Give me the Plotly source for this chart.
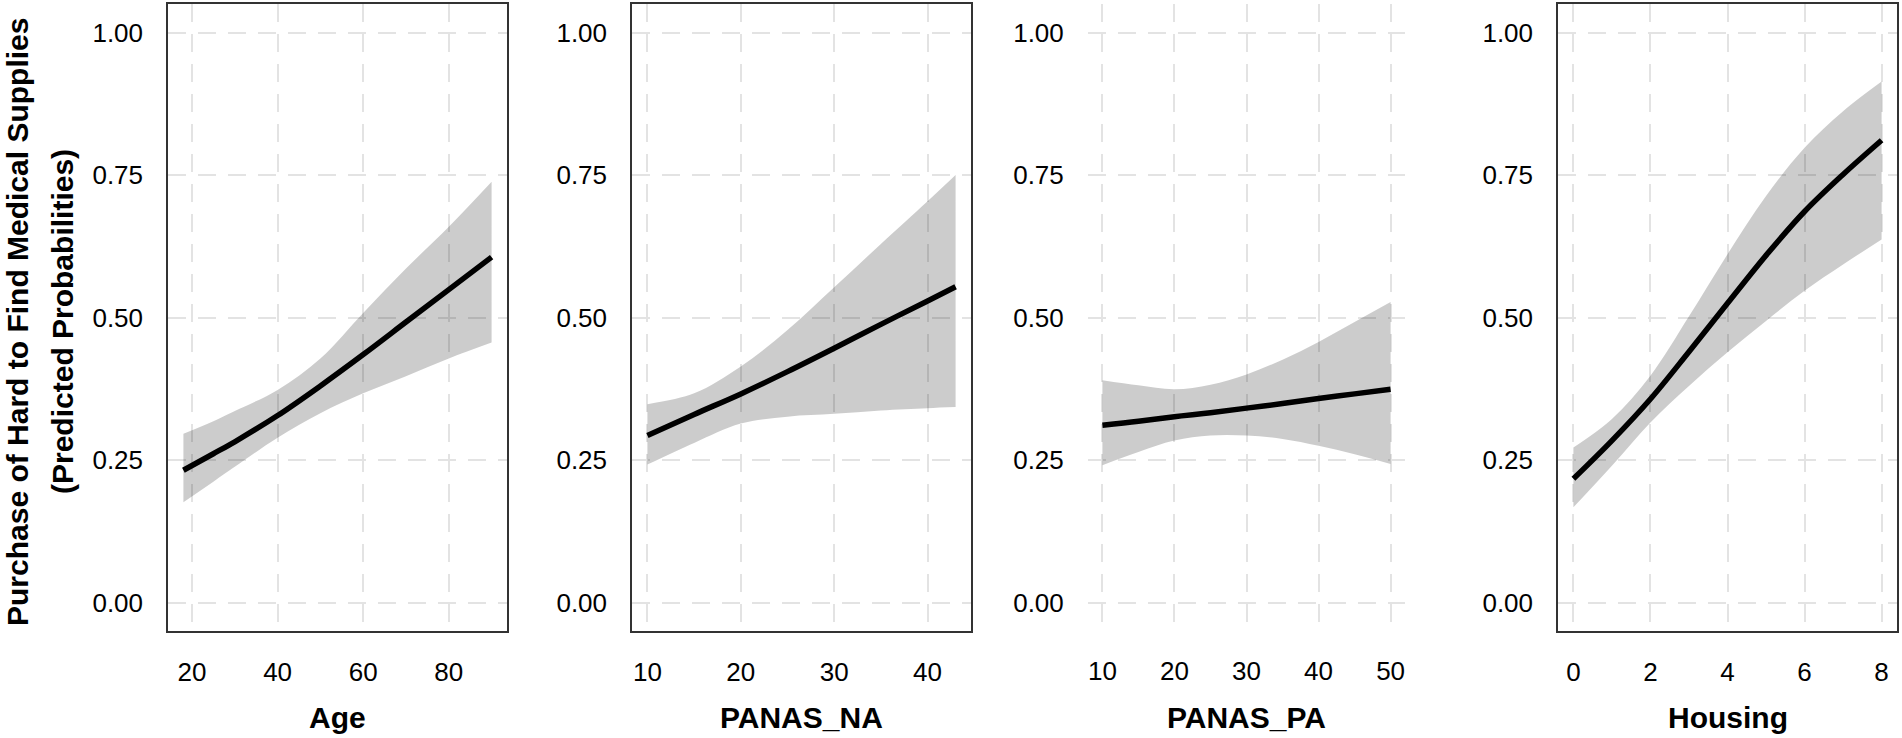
import plotly.graph_objects as go

# Predicted probabilities
age = [18, 25, 30, 40, 50, 60, 70, 80, 90]
age_fit = [0.232, 0.261, 0.282, 0.328, 0.380, 0.435, 0.492, 0.549, 0.606]
age_hi = [0.296, 0.318, 0.336, 0.373, 0.428, 0.508, 0.586, 0.659, 0.738]
age_lo = [0.176, 0.212, 0.238, 0.289, 0.332, 0.367, 0.397, 0.428, 0.456]

panas_na = [10, 15, 20, 25, 30, 35, 40, 43]
na_fit = [0.293, 0.330, 0.366, 0.405, 0.446, 0.488, 0.529, 0.554]
na_hi = [0.348, 0.367, 0.414, 0.478, 0.553, 0.629, 0.704, 0.750]
na_lo = [0.242, 0.280, 0.314, 0.326, 0.331, 0.337, 0.341, 0.343]

panas_pa = [10, 15, 20, 25, 30, 35, 40, 45, 50]
pa_fit = [0.311, 0.318, 0.326, 0.333, 0.341, 0.349, 0.358, 0.366, 0.374]
pa_hi = [0.390, 0.381, 0.374, 0.382, 0.400, 0.426, 0.457, 0.492, 0.527]
pa_lo = [0.241, 0.264, 0.284, 0.293, 0.293, 0.287, 0.275, 0.260, 0.243]

housing = [0, 1, 2, 3, 4, 5, 6, 7, 8]
h_fit = [0.217, 0.284, 0.357, 0.440, 0.525, 0.609, 0.686, 0.751, 0.811]
h_hi = [0.272, 0.322, 0.398, 0.502, 0.611, 0.713, 0.798, 0.862, 0.914]
h_lo = [0.167, 0.240, 0.316, 0.380, 0.439, 0.494, 0.547, 0.593, 0.637]

panels = [
    ("Age", age, age_fit, age_lo, age_hi, [20, 40, 60, 80], True),
    ("PANAS_NA", panas_na, na_fit, na_lo, na_hi, [10, 20, 30, 40], True),
    ("PANAS_PA", panas_pa, pa_fit, pa_lo, pa_hi, [10, 20, 30, 40, 50], False),
    ("Housing", housing, h_fit, h_lo, h_hi, [0, 2, 4, 6, 8], True),
]
y_title = ["Purchase of Hard to Find Medical Supplies", "(Predicted Probabilities)"]
y_ticks = [0, 0.25, 0.5, 0.75, 1.0]

W, H = 1902, 738
px_domains = [(168, 507), (632, 971), (1088, 1405), (1558, 1897)]
y_dom = [1 - 631 / H, 1 - 4 / H]
FONT = "Liberation Sans, Arial, Helvetica, sans-serif"
GRID = "#e3e3e3"

fig = go.Figure()
layout = {}
annotations = []

for i, (name, x, fit, lo, hi, xt, boxed) in enumerate(panels):
    n = i + 1
    xa, ya = f"x{n if n > 1 else ''}", f"y{n if n > 1 else ''}"
    fig.add_trace(go.Scatter(x=x, y=lo, mode="lines", line=dict(width=0, shape="spline"),
                             xaxis=xa, yaxis=ya, showlegend=False, hoverinfo="skip"))
    fig.add_trace(go.Scatter(x=x, y=hi, mode="lines", line=dict(width=0, shape="spline"),
                             fill="tonexty", fillcolor="rgba(0,0,0,0.2)",
                             xaxis=xa, yaxis=ya, showlegend=False, hoverinfo="skip"))
    fig.add_trace(go.Scatter(x=x, y=fit, mode="lines", line=dict(color="black", width=5.5, shape="spline"),
                             xaxis=xa, yaxis=ya, showlegend=False))

    pad = 0.05 * (x[-1] - x[0])
    d0, d1 = px_domains[i]
    common = dict(showgrid=True, gridcolor=GRID, gridwidth=2, griddash="18px,12px",
                  zeroline=False, showline=boxed, mirror=boxed, linecolor="#333333", linewidth=1.5,
                  ticks="outside", tickcolor="rgba(0,0,0,0)",
                  tickfont=dict(family=FONT, size=26, color="black"))
    layout[f"xaxis{n if n > 1 else ''}"] = dict(
        domain=[d0 / W, d1 / W], anchor=ya, range=[x[0] - pad, x[-1] + pad],
        tickvals=xt, ticklen=17, **common)
    layout[f"yaxis{n if n > 1 else ''}"] = dict(
        domain=y_dom, anchor=xa, range=[-0.05, 1.05], tickvals=y_ticks, tickformat=".2f",
        ticklen=18, **common)
    annotations.append(dict(text=f"<b>{name}</b>", xref="paper", yref="paper",
                            x=(d0 + d1) / 2 / W, y=1 - 717 / H, xanchor="center", yanchor="middle",
                            showarrow=False, font=dict(family=FONT, size=30, color="black")))

ymid = 1 - 322 / H
for xpix, line in zip([17, 62], y_title):
    annotations.append(dict(text=f"<b>{line}</b>", xref="paper", yref="paper", x=xpix / W, y=ymid,
                            xanchor="center", yanchor="middle", textangle=-90, showarrow=False,
                            font=dict(family=FONT, size=30, color="black")))

fig.update_layout(width=W, height=H, margin=dict(l=0, r=0, t=0, b=0),
                  plot_bgcolor="white", paper_bgcolor="white",
                  annotations=annotations, **layout)

# drop the browser's default body margin so the figure sits at the window origin
fig.write_html("out.html", config={"displayModeBar": False},
               post_script="document.body.style.margin='0px';"
                           "document.body.style.overflow='hidden';")
